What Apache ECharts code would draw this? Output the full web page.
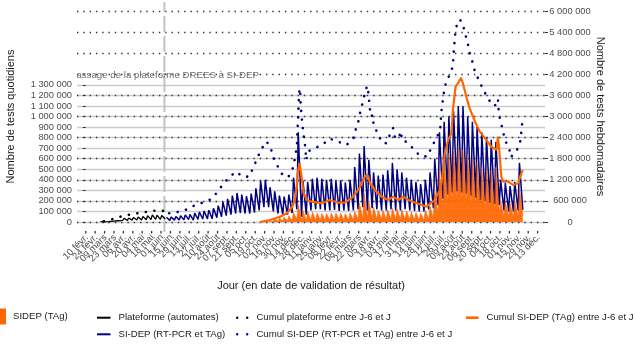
<!DOCTYPE html>
<html>
<head>
<meta charset="utf-8" />
<style>
  html, body { margin: 0; padding: 0; background: #fff; }
  #chart { width: 635px; height: 353px; }
</style>
<script src="https://cdn.jsdelivr.net/npm/echarts@6/dist/echarts.min.js"></script>
</head>
<body>
<div id="chart"></div>
<script>
// x axis range, and a label every 14 days
var axisStart = '2020-01-28';
var axisEnd = '2021-12-24';
var firstLabel = '2020-02-10';
var lastLabel = '2021-12-13';
var switchDate = '2020-06-06';
var switchText = 'Passage de la plateforme DREES à SI-DEP';
var months = ['janv.', 'févr.', 'mars', 'avr.', 'mai', 'juin', 'juil.', 'août', 'sept.', 'oct.', 'nov.', 'déc.'];

var leftTicks = [0, 100000, 200000, 300000, 400000, 500000, 600000, 700000,
                 800000, 900000, 1000000, 1100000, 1200000, 1300000];

// tests quotidiens (milliers) : un pic (mardi) et un creux (dimanche) par semaine
var plateformeStart = '2020-03-02';
var plateformePeaks = [4, 8, 15, 22, 28, 35, 38, 42, 48, 52, 60, 68, 65, 62];
var plateformeLows  = [2, 4, 8, 12, 15, 15, 18, 18, 20, 22, 22, 25, 25, 28];

var sidepStart = '2020-06-08';
var sidepPeaks = [45, 48, 52, 60, 68, 72, 85, 95, 105, 112, 130, 155, 190, 220, 250, 275, 260, 245, 270, 320, 390, 400, 330, 290, 250, 240, 260, 420, 850, 390,
                  380, 410, 420, 410, 400, 410, 390, 395, 375, 400, 520, 650, 720, 590, 470, 440, 450, 490, 560, 500, 470, 420, 400, 380, 360, 400,
                  470, 600, 850, 950, 1000, 1050, 1100, 1100, 1000, 950, 900, 850, 800, 780, 760,
                  400, 370, 340, 380, 560];
var sidepLows  = [15, 18, 18, 20, 22, 18, 25, 28, 30, 30, 40, 50, 60, 70, 80, 85, 80, 80, 90, 110, 140, 140, 100, 80, 70, 70, 85, 120, 50, 70,
                  110, 120, 120, 110, 110, 115, 105, 110, 105, 110, 120, 140, 110, 130, 120, 110, 110, 120, 110, 110, 120, 110, 105, 100, 100, 120,
                  130, 160, 220, 260, 280, 290, 280, 270, 250, 230, 210, 200, 180, 170, 160,
                  110, 100, 100, 110, 115];

var tagStart = '2020-11-02';
var tagPeaks = [10, 20, 30, 40, 45, 60, 90, 165, 110,
                100, 95, 85, 80, 80, 85, 85, 85, 80, 85, 100, 180,
                270, 200, 140, 110, 110, 115, 130, 120, 115, 105, 95, 90, 85, 110,
                150, 300, 480, 600, 650, 700, 710, 680, 640, 600, 560, 520, 500, 480, 520,
                200, 190, 180, 200, 320];
var tagLows  = [2, 5, 8, 10, 12, 15, 25, 15, 15,
                20, 20, 20, 18, 18, 20, 20, 20, 20, 22, 25, 30,
                30, 30, 28, 25, 25, 25, 25, 25, 25, 25, 22, 20, 20, 25,
                40, 80, 130, 180, 200, 210, 200, 190, 170, 150, 140, 130, 120, 110, 90,
                50, 50, 45, 50, 60];

// cumuls J-6 a J (milliers, axe de droite)
var cumPlateformeDates = ['2020-03-08', '2020-03-15', '2020-03-22', '2020-03-29', '2020-04-05', '2020-04-12', '2020-04-19',
                          '2020-04-26', '2020-05-03', '2020-05-10', '2020-05-17', '2020-05-24', '2020-05-31', '2020-06-06'];
var cumPlateformeValues = [20, 50, 90, 130, 170, 200, 220, 245, 265, 285, 310, 325, 320, 315];

var cumSidepDates = ['2020-06-13', '2020-06-20', '2020-06-29', '2020-07-11', '2020-07-22', '2020-08-02', '2020-08-14', '2020-08-23',
  '2020-09-01', '2020-09-11', '2020-09-21', '2020-09-30', '2020-10-10', '2020-10-16', '2020-10-22', '2020-10-28', '2020-11-05',
  '2020-11-11', '2020-11-15', '2020-11-20', '2020-11-27', '2020-12-07', '2020-12-15', '2020-12-17', '2020-12-20', '2020-12-21',
  '2020-12-22', '2020-12-23', '2020-12-24', '2020-12-25', '2020-12-26', '2020-12-28', '2020-12-30', '2021-01-01', '2021-01-03',
  '2021-01-05', '2021-01-10', '2021-01-27', '2021-02-07', '2021-02-20', '2021-03-04', '2021-03-14', '2021-03-18', '2021-03-22',
  '2021-03-25', '2021-03-29', '2021-04-01', '2021-04-04', '2021-04-06', '2021-04-07', '2021-04-09', '2021-04-12', '2021-04-13',
  '2021-04-15', '2021-04-20', '2021-04-26', '2021-05-02', '2021-05-07', '2021-05-12', '2021-05-15', '2021-05-20', '2021-05-24',
  '2021-05-25', '2021-06-01', '2021-06-12', '2021-06-21', '2021-07-02', '2021-07-08', '2021-07-15', '2021-07-21', '2021-07-22',
  '2021-07-23', '2021-07-25', '2021-07-27', '2021-07-30', '2021-08-06', '2021-08-09', '2021-08-10', '2021-08-11', '2021-08-12',
  '2021-08-14', '2021-08-19', '2021-08-23', '2021-08-27', '2021-08-31', '2021-09-03', '2021-09-07', '2021-09-11', '2021-09-17',
  '2021-09-23', '2021-09-30', '2021-10-08', '2021-10-14', '2021-10-15', '2021-10-16', '2021-10-18', '2021-10-22', '2021-10-25',
  '2021-11-01', '2021-11-03', '2021-11-09', '2021-11-14', '2021-11-18', '2021-11-19', '2021-11-21'];
var cumSidepValues = [250, 270, 293, 370, 483, 550, 645, 833,
  1070, 1290, 1430, 1290, 1290, 1540, 1810, 2070, 2290,
  2100, 1850, 1640, 1380, 1270, 1570, 1810, 2140, 2640,
  3000, 3560, 3800, 3660, 3230, 2800, 2470, 2200, 1760,
  2000, 2050, 2200, 2370, 2280, 2190, 2390, 2660, 2900,
  3200, 3470, 3750, 3870, 3560, 3300, 3000, 3040, 2780,
  2760, 2480, 2250, 2240, 2470, 2670, 2380, 2380, 2580,
  2320, 2280, 2070, 1880, 1860, 2110, 2380, 2590, 2880,
  3160, 3450, 3730, 3990, 4250, 4440, 4750, 5000, 5270,
  5550, 5760, 5670, 5370, 5100, 4810, 4560, 4270, 4020,
  3770, 3520, 3300, 3350, 3490, 3180, 2920, 2640, 2350,
  2070, 1840, 1970, 2100, 2350, 2660, 2920];

var cumTagDates = ['2020-10-26', '2020-11-10', '2020-11-25', '2020-12-05', '2020-12-12', '2020-12-17', '2020-12-20', '2020-12-21',
  '2020-12-24', '2020-12-27', '2020-12-30', '2021-01-04', '2021-01-11', '2021-01-26', '2021-02-07', '2021-02-20', '2021-03-02',
  '2021-03-14', '2021-03-24', '2021-03-31', '2021-04-04', '2021-04-08', '2021-04-15', '2021-04-25', '2021-05-05', '2021-05-12',
  '2021-05-20', '2021-05-27', '2021-06-04', '2021-06-14', '2021-06-24', '2021-07-01', '2021-07-13', '2021-07-21', '2021-07-23',
  '2021-07-26', '2021-07-28', '2021-08-02', '2021-08-07', '2021-08-09', '2021-08-13', '2021-08-18', '2021-08-21', '2021-08-24',
  '2021-08-29', '2021-09-03', '2021-09-11', '2021-09-18', '2021-09-28', '2021-10-05', '2021-10-13', '2021-10-15', '2021-10-17',
  '2021-10-20', '2021-10-23', '2021-10-30', '2021-11-07', '2021-11-14', '2021-11-17', '2021-11-21'];
var cumTagValues = [0, 57, 150, 247, 390, 625, 1000, 1380,
  1670, 1290, 816, 625, 577, 532, 625, 549, 549,
  720, 1000, 1290, 1340, 1100, 910, 720, 625, 720,
  625, 720, 625, 549, 483, 435, 625, 910, 1100,
  1570, 1950, 2330, 2520, 3180, 3850, 3990, 4100, 3940,
  3560, 3230, 2850, 2570, 2330, 2140, 2050, 2430, 2050,
  1290, 1150, 1150, 1050, 1100, 1290, 1480];

// the x axis counts days from firstLabel
var DAY = 86400000;
var origin = Date.parse(firstLabel + 'T00:00:00Z');
function dayNum(iso) { return Math.round((Date.parse(iso + 'T00:00:00Z') - origin) / DAY); }
function dayLabel(n) {
  var t = new Date(origin + n * DAY);
  var dd = t.getUTCDate();
  return (dd < 10 ? '0' : '') + dd + ' ' + months[t.getUTCMonth()];
}

function weekly(start, peaks, lows) {
  var s = dayNum(start), out = [];
  for (var i = 0; i < peaks.length; i++) {
    out.push([s + 7 * i + 1, peaks[i] * 1000]);
    out.push([s + 7 * i + 6, lows[i] * 1000]);
  }
  return out;
}
function pairs(dates, values) {
  return dates.map(function (d, i) { return [dayNum(d), values[i] * 1000]; });
}
function spaced(v) {
  return String(v).replace(/\B(?=(\d{3})+(?!\d))/g, ' ');
}

var labelDays = [];
for (var n = 0; n <= dayNum(lastLabel); n += 14) labelDays.push(n);

var font = 'Liberation Sans, Arial, sans-serif';
var navy = '#000080';
var orange = '#FF6600';
var dots = 'path://M1.2,1.2m-1.2,0a1.2,1.2 0 1,0 2.4,0a1.2,1.2 0 1,0 -2.4,0M11.2,1.2m-1.2,0a1.2,1.2 0 1,0 2.4,0a1.2,1.2 0 1,0 -2.4,0';
var legendText = { fontFamily: font, fontSize: 9.6, color: '#1a1a1a', lineHeight: 12 };

var chart = echarts.init(document.getElementById('chart'));
chart.setOption({
  animation: false,
  backgroundColor: '#fff',
  textStyle: { fontFamily: font },
  grid: { left: 77, right: 90, top: 11, bottom: 131, outerBoundsMode: 'none' },
  legend: [
    {
      data: [{ name: 'SIDEP (TAg)', icon: 'rect' }],
      left: 0, top: 308.5, padding: 0, itemWidth: 6, itemHeight: 16,
      selectedMode: false, itemStyle: { borderWidth: 0 },
      textStyle: Object.assign({ padding: [0, 0, 0, 2] }, legendText)
    },
    {
      data: [{ name: 'Plateforme (automates)', icon: 'rect' }, { name: 'SI-DEP (RT-PCR et TAg)', icon: 'rect' }],
      orient: 'vertical', left: 97, top: 311.7, padding: 0, itemWidth: 13.5, itemHeight: 2, itemGap: 4.6,
      selectedMode: false, itemStyle: { borderWidth: 0 },
      textStyle: Object.assign({ padding: [0, 0, 0, 3] }, legendText)
    },
    {
      data: [{ name: 'Cumul plateforme entre J-6 et J', icon: dots }, { name: 'Cumul SI-DEP (RT-PCR et TAg) entre J-6 et J', icon: dots }],
      orient: 'vertical', left: 236, top: 311.7, padding: 0, itemWidth: 12.4, itemHeight: 2.4, itemGap: 4.6,
      selectedMode: false, itemStyle: { borderWidth: 0 },
      textStyle: Object.assign({ padding: [0, 0, 0, 3] }, legendText)
    },
    {
      data: [{ name: 'Cumul SI-DEP (TAg) entre J-6 et J', icon: 'rect' }],
      left: 466, top: 311.7, padding: 0, itemWidth: 12.6, itemHeight: 2.6,
      selectedMode: false, itemStyle: { borderWidth: 0 },
      textStyle: Object.assign({ padding: [0, 0, 0, 3] }, legendText)
    }
  ],
  xAxis: {
    type: 'value',
    min: dayNum(axisStart),
    max: dayNum(axisEnd),
    offset: 9,
    name: 'Jour (en date de validation de résultat)',
    nameLocation: 'middle',
    nameGap: 49,
    nameMoveOverlap: false,
    nameTextStyle: { fontFamily: font, fontSize: 11, color: '#1a1a1a' },
    axisLine: { show: false },
    axisTick: { show: false },
    axisLabel: { show: false },
    splitLine: { show: false }
  },
  yAxis: [
    {
      type: 'value', min: 0, max: 2000000, position: 'left',
      name: 'Nombre de tests quotidiens', nameLocation: 'middle', nameGap: 61, nameMoveOverlap: false,
      nameTextStyle: { fontFamily: font, fontSize: 11, color: '#1a1a1a' },
      axisLine: { show: false },
      axisTick: { show: true, length: 3, customValues: leftTicks, lineStyle: { color: '#333', width: 1 } },
      axisLabel: { customValues: leftTicks, margin: 5, fontFamily: font, fontSize: 9.3, color: '#4d4d4d', formatter: spaced },
      splitLine: { show: true, lineStyle: { color: '#cccccc', width: 1.3 } }
    },
    {
      type: 'value', min: 0, max: 6000000, interval: 600000, position: 'right',
      name: 'Nombre de tests hebdomadaires', nameLocation: 'middle', nameGap: 50, nameRotate: -90, nameMoveOverlap: false,
      nameTextStyle: { fontFamily: font, fontSize: 11, color: '#1a1a1a' },
      axisLine: { show: false },
      axisTick: { show: true, length: 3, lineStyle: { color: '#333', width: 1 } },
      axisLabel: { margin: 25, align: 'center', fontFamily: font, fontSize: 9.3, color: '#4d4d4d', formatter: spaced },
      splitLine: { show: true, lineStyle: { color: '#333', width: 1.4, type: [1.4, 4.9] } }
    }
  ],
  series: [
    {
      // x ticks and date labels, every 14 days
      type: 'custom', clip: false, silent: true, z: 1,
      data: labelDays.map(function (d) { return [d, 0]; }),
      renderItem: function (params, api) {
        var p = api.coord([api.value(0), 0]);
        return {
          type: 'group',
          children: [
            { type: 'line', shape: { x1: p[0], y1: p[1] + 9, x2: p[0], y2: p[1] + 11.5 },
              style: { stroke: '#333', lineWidth: 1.3 } },
            { type: 'text', x: p[0] + 1, y: p[1] + 14, rotation: Math.PI / 4,
              style: { text: dayLabel(api.value(0)), align: 'right', verticalAlign: 'middle',
                       fill: '#4d4d4d', fontSize: 9.5, fontFamily: font } }
          ]
        };
      }
    },
    {
      type: 'custom', yAxisIndex: 1, clip: false, silent: true, z: 1,
      data: [[dayNum(switchDate), 0]],
      renderItem: function (params, api) {
        var b = api.coord([api.value(0), 0]);
        var t = api.coord([api.value(0), 6000000]);
        return {
          type: 'line',
          shape: { x1: b[0], y1: b[1] + 10, x2: b[0], y2: t[1] - 9 },
          style: { stroke: '#c2c2c2', lineWidth: 2, lineDash: [16, 4] }
        };
      }
    },
    {
      name: 'SI-DEP (RT-PCR et TAg)', type: 'line', silent: true,
      data: weekly(sidepStart, sidepPeaks, sidepLows),
      showSymbol: false, color: navy, lineStyle: { width: 1.5 }
    },
    {
      name: 'Plateforme (automates)', type: 'line', silent: true,
      data: weekly(plateformeStart, plateformePeaks, plateformeLows),
      showSymbol: false, color: '#000', lineStyle: { width: 1.3 }
    },
    {
      name: 'SIDEP (TAg)', type: 'line', silent: true,
      data: weekly(tagStart, tagPeaks, tagLows),
      showSymbol: false, color: orange, lineStyle: { width: 0.6 },
      areaStyle: { color: orange, opacity: 0.92 }
    },
    {
      name: 'Cumul SI-DEP (RT-PCR et TAg) entre J-6 et J', type: 'line', yAxisIndex: 1, silent: true,
      data: pairs(cumSidepDates, cumSidepValues),
      showSymbol: false, color: navy,
      lineStyle: { width: 2.6, type: [0.1, 8.5], cap: 'round' }
    },
    {
      name: 'Cumul plateforme entre J-6 et J', type: 'line', yAxisIndex: 1, silent: true,
      data: pairs(cumPlateformeDates, cumPlateformeValues),
      showSymbol: false, color: '#000',
      lineStyle: { width: 2.6, type: [0.1, 8.5], cap: 'round' }
    },
    {
      name: 'Cumul SI-DEP (TAg) entre J-6 et J', type: 'line', yAxisIndex: 1, silent: true,
      data: pairs(cumTagDates, cumTagValues),
      showSymbol: false, color: orange, lineStyle: { width: 2.2 }
    },
    {
      type: 'custom', yAxisIndex: 1, clip: true, silent: true, z: 3,
      data: [[dayNum(switchDate), 4200000]],
      renderItem: function (params, api) {
        var p = api.coord([api.value(0), api.value(1)]);
        return {
          type: 'text',
          x: p[0], y: p[1] + 1,
          style: {
            text: switchText, align: 'center', verticalAlign: 'middle',
            fill: '#6e6e6e', fontSize: 9.7, fontFamily: font
          }
        };
      }
    }
  ]
});
</script>
</body>
</html>
